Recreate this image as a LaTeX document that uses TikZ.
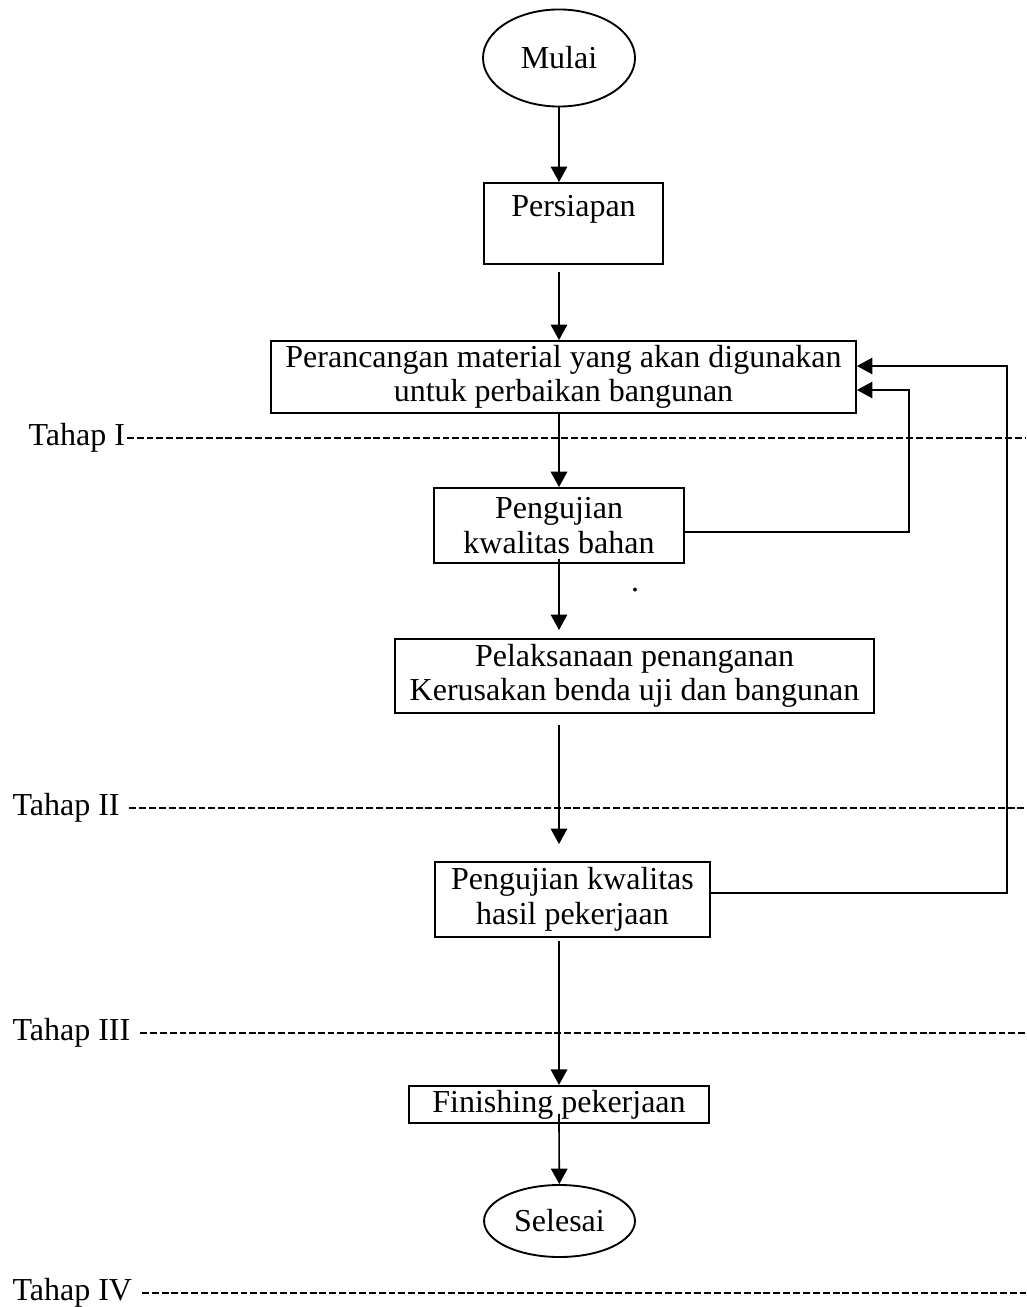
\documentclass[tikz,border=0pt]{standalone}
\usepackage{fontspec}
\setmainfont{Liberation Serif}
\usepackage{tikz}
\usetikzlibrary{shapes.geometric, arrows.meta, positioning, calc}

\newcommand{\flowfont}{\fontsize{12}{13}\selectfont}

\tikzset{
  terminal/.style={
    ellipse, draw, line width=0.7pt, inner sep=0pt, font=\flowfont
  },
  stepbox/.style={
    rectangle, draw, line width=0.7pt, inner sep=1pt, align=center,
    font=\flowfont
  },
  arrow/.style={-{Triangle[length=5.8pt,width=6.2pt]}, line width=0.6pt},
  phase/.style={anchor=west, inner sep=0pt, font=\flowfont},
  phaseline/.style={dash pattern=on 2.6pt off 1.1pt, line width=0.6pt}
}

\begin{document}
\begin{tikzpicture}[x=0.375pt, y=-0.375pt]
  \useasboundingbox (0,0) rectangle (1026,1307);
  \coordinate (edge) at (1026,0);

  % main flow
  \node[terminal, minimum width=57pt, minimum height=36.4pt] (mulai) at (559,58) {Mulai};
  \node[stepbox, minimum width=67.1pt, minimum height=30.4pt] (siap) at (573.5,223.5) {Persiapan\\~};
  \node[stepbox, minimum width=219.4pt, minimum height=27pt] (rancang) at (563.5,377)
    {Perancangan material yang akan digunakan\\untuk perbaikan bangunan};
  \node[stepbox, minimum width=93.8pt, minimum height=28.1pt] (bahan) at (559,525.5)
    {Pengujian\\kwalitas bahan};
  \node[stepbox, minimum width=179.6pt, minimum height=27.8pt] (laksana) at (634.5,676)
    {Pelaksanaan penanganan\\Kerusakan benda uji dan bangunan};
  \node[stepbox, minimum width=103.1pt, minimum height=28.1pt] (hasil) at (572.5,899.5)
    {Pengujian kwalitas\\hasil pekerjaan};
  \node[stepbox, minimum width=112.5pt, minimum height=14pt] (finish) at (559,1104.5)
    {Finishing pekerjaan};
  \node[terminal, minimum width=56.6pt, minimum height=27pt] (selesai) at (559.5,1221) {Selesai};
  \node[font=\flowfont, inner sep=0pt] (titik) at (635,590) {.};

  \draw[arrow] (mulai) -- (mulai |- siap.north);
  \draw[arrow, shorten <=2.6pt] (mulai |- siap.south) -- (mulai |- rancang.north);
  \draw[arrow] (mulai |- rancang.south) -- (bahan.north);
  \draw[arrow, shorten <=-2pt, shorten >=3pt] (bahan.south) -- (mulai |- laksana.north);
  \draw[arrow, shorten <=4pt, shorten >=6.4pt] (mulai |- laksana.south) -- (mulai |- hasil.north);
  \draw[arrow, shorten <=1pt] (mulai |- hasil.south) -- (finish.north);
  \draw[arrow, shorten <=-3.8pt] (finish.south) -- (selesai);

  % feedback loops
  \coordinate (fbin) at (909,390);
  \coordinate (fbout) at (1007,366);
  \draw[arrow] ([yshift=-2.4pt]bahan.east) -| (fbin) -- (fbin -| rancang.east);
  \draw[arrow] ([yshift=2.4pt]hasil.east) -| (fbout) -- (fbout -| rancang.east);

  % phases
  \node[phase] (t1) at (28,438) {Tahap I};
  \node[phase] (t2) at (12,808) {Tahap II};
  \node[phase] (t3) at (12,1033) {Tahap III};
  \node[phase] (t4) at (12,1293) {Tahap IV};
  \draw[phaseline, shorten <=0.5pt] (t1.east) -- (t1.east -| edge);
  \draw[phaseline, shorten <=3.5pt] (t2.east) -- (t2.east -| edge);
  \draw[phaseline, shorten <=3.5pt] (t3.east) -- (t3.east -| edge);
  \draw[phaseline, shorten <=3.5pt] (t4.east) -- (t4.east -| edge);
\end{tikzpicture}
\end{document}
